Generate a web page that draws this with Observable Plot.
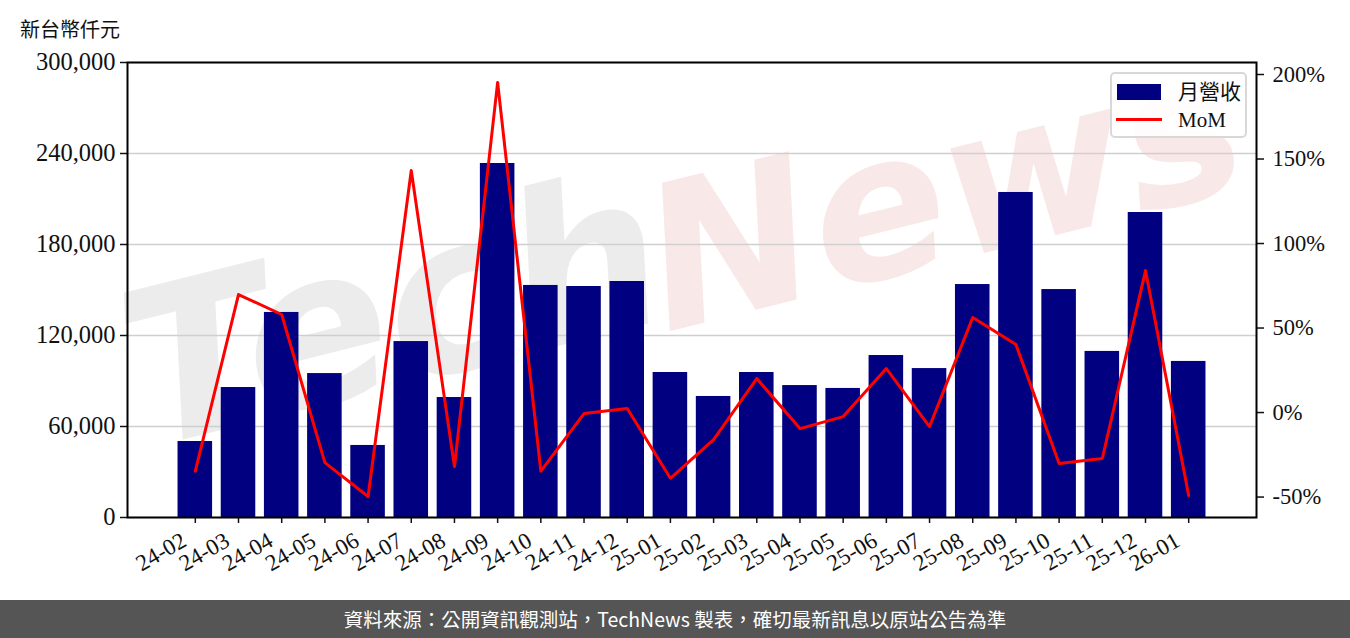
<!DOCTYPE html>
<html>
<head>
<meta charset="utf-8">
<script src="https://cdn.jsdelivr.net/npm/d3@7"></script>
<script src="https://cdn.jsdelivr.net/npm/@observablehq/plot@0.6"></script>
<style>
  html, body { margin: 0; padding: 0; background: #fff; }
  #wrap { position: relative; width: 1350px; height: 638px; overflow: hidden; background: #fff; }
  #chart { position: absolute; left: 0; top: 0; }
  #unit { position: absolute; left: 20px; top: 14px; font: 20px "Noto Sans CJK TC", sans-serif; color: #111; }
  #legend { position: absolute; left: 1110px; top: 72px; width: 133px; height: 62px; border: 2px solid #d8d8d8; border-radius: 5px; background: rgba(255,255,255,0.85); }
  .lg-row { position: absolute; left: 0; height: 24px; width: 133px; }
  .lg-text { position: absolute; left: 66px; top: 0; font: 21px "Liberation Serif", "Noto Sans CJK TC", serif; color: #111; line-height: 24px; }
  #footer { position: absolute; left: 0; top: 600px; width: 1350px; height: 38px; background: #555555; color: #fff; font: 19.5px "Noto Sans CJK TC", sans-serif; text-align: center; line-height: 38px; }
  #wm { position: absolute; left: 0; top: 0; width: 1350px; height: 600px; pointer-events: none; }
  .wmt { position: absolute; font-family: "DejaVu Sans", sans-serif; font-weight: bold; font-style: italic; white-space: nowrap; transform-origin: center center; }
</style>
</head>
<body>
<div id="wrap">
  <div id="wm">
    <div class="wmt" style="left:120px; top:185px; font-size:215px; color:#ececec; transform: rotate(-14deg);">Tech</div>
    <div class="wmt" style="left:640px; top:75px; font-size:200px; color:#f9e8e8; transform: rotate(-14deg);">News</div>
  </div>
  <div id="chart"></div>
  <div id="unit">新台幣仟元</div>
  <div id="legend">
    <div class="lg-row" style="top:6px;">
      <div style="position:absolute; left:5px; top:4px; width:44px; height:16px; background:#000080;"></div>
      <div class="lg-text">月營收</div>
    </div>
    <div class="lg-row" style="top:34px;">
      <div style="position:absolute; left:4px; top:10px; width:46px; height:3px; background:#ff0000;"></div>
      <div class="lg-text">MoM</div>
    </div>
  </div>
  <div id="footer">資料來源：公開資訊觀測站，TechNews 製表，確切最新訊息以原站公告為準</div>
</div>
<script>
const months = ["24-02","24-03","24-04","24-05","24-06","24-07","24-08","24-09","24-10","24-11","24-12",
  "25-01","25-02","25-03","25-04","25-05","25-06","25-07","25-08","25-09","25-10","25-11","25-12","26-01"];
const revenue = [50100, 85700, 135200, 94900, 47500, 116000, 79100, 233400, 153000, 152300, 155600,
  95600, 79800, 95600, 87000, 85100, 106800, 98200, 153600, 214300, 150300, 109500, 201100, 102900];
const mom = [-34.7, 69.8, 58.0, -29.6, -49.7, 143.2, -32.0, 195.3, -34.7, -0.6, 2.4,
  -38.9, -16.0, 20.1, -9.5, -2.4, 26.0, -8.3, 56.2, 40.2, -30.2, -27.2, 84.0, -49.1];
const leftTicks = [0, 60000, 120000, 180000, 240000, 300000];
const rightTicks = [-50, 0, 50, 100, 150, 200];

const leftDomain = [0, 300000];
const rightDomain = [-62.1, 207.1];
const toLeft = p => (p - rightDomain[0]) / (rightDomain[1] - rightDomain[0]) * (leftDomain[1] - leftDomain[0]) + leftDomain[0];
const toRight = v => (v - leftDomain[0]) / (leftDomain[1] - leftDomain[0]) * (rightDomain[1] - rightDomain[0]) + rightDomain[0];

const rows = months.map((m, i) => ({month: m, revenue: revenue[i], mom: mom[i], momY: toLeft(mom[i])}));

const font = '"Liberation Serif", "DejaVu Serif", serif';

const chart = Plot.plot({
  width: 1350,
  height: 600,
  marginLeft: 127,
  marginRight: 94,
  marginTop: 62,
  marginBottom: 83,
  style: {fontFamily: font, background: "transparent", color: "#111", overflow: "visible"},
  x: {type: "band", domain: months, paddingInner: 0.2, paddingOuter: 1.17, round: false, label: null},
  y: {domain: leftDomain, label: null},
  marks: [
    Plot.gridY(leftTicks, {stroke: "#cfcfcf", strokeOpacity: 1, strokeWidth: 1.6}),
    Plot.barY(rows, {x: "month", y: "revenue", fill: "#000080"}),
    Plot.lineY(rows, {x: "month", y: "momY", stroke: "#ff0000", strokeWidth: 3}),
    Plot.axisY(leftTicks, {anchor: "left", tickFormat: d3.format(","), fontSize: 24.5, tickSize: 7, tickPadding: 5, strokeWidth: 1.5, label: null}),
    Plot.axisY(rightTicks.map(toLeft), {anchor: "right", tickFormat: d => Math.round(toRight(d)) + "%", fontSize: 22.5, tickSize: 7, tickPadding: 9, strokeWidth: 1.5, label: null}),
    Plot.axisX({anchor: "bottom", tickSize: 6, tickFormat: () => "", strokeWidth: 1.5, label: null}),
    Plot.axisX({anchor: "bottom", tickRotate: -30, fontSize: 23, tickSize: 0, tickPadding: 21, dx: -11, label: null}),
    Plot.frame({stroke: "#000", strokeWidth: 2})
  ]
});
document.getElementById("chart").appendChild(chart);
</script>
</body>
</html>
